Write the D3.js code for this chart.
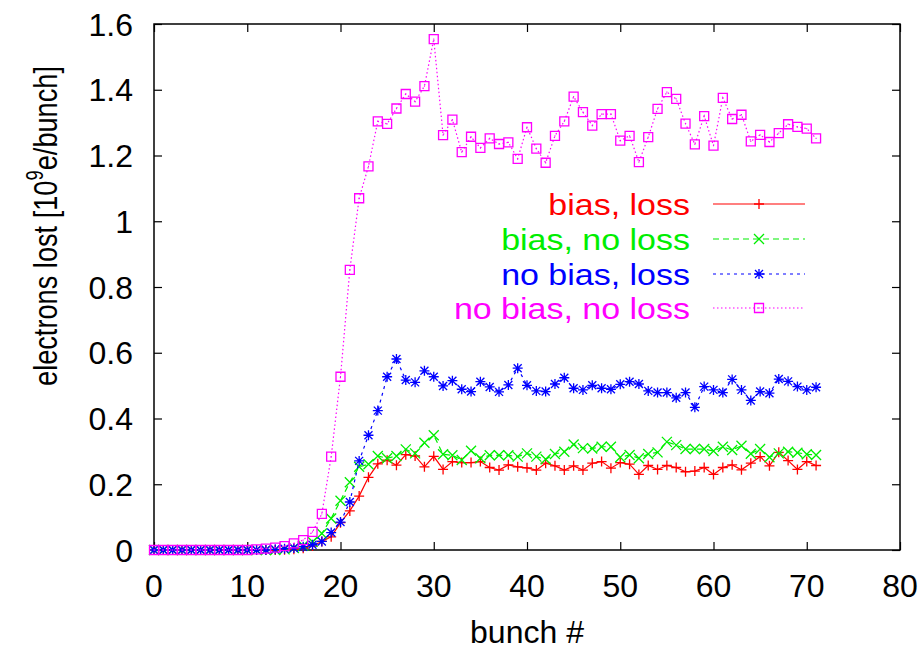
<!DOCTYPE html>
<html><head><meta charset="utf-8">
<script src="https://cdn.jsdelivr.net/npm/d3@7"></script>
<style>body{margin:0;background:#fff} text{font-family:"Liberation Sans",Arial,sans-serif}</style>
</head><body><svg id="c" width="921" height="654"></svg>
<script>
const bunch = [0,1,2,3,4,5,6,7,8,9,10,11,12,13,14,15,16,17,18,19,20,21,22,23,24,25,26,27,28,29,30,31,32,33,34,35,36,37,38,39,40,41,42,43,44,45,46,47,48,49,50,51,52,53,54,55,56,57,58,59,60,61,62,63,64,65,66,67,68,69,70,71];
const biasLoss = [0,0,0,0,0,0,0,0,0,0,0,0,0,0,0.001,0.002,0.005,0.012,0.026,0.040,0.083,0.119,0.164,0.221,0.262,0.273,0.258,0.290,0.286,0.253,0.285,0.245,0.269,0.266,0.266,0.269,0.251,0.243,0.259,0.253,0.250,0.243,0.264,0.256,0.243,0.256,0.243,0.264,0.269,0.249,0.266,0.261,0.230,0.257,0.245,0.257,0.251,0.238,0.240,0.251,0.230,0.251,0.259,0.244,0.264,0.284,0.256,0.297,0.272,0.245,0.269,0.257];
const biasNoLoss = [0,0,0,0,0,0,0,0,0,0,0,0,0,0,0.002,0.006,0.013,0.025,0.050,0.096,0.150,0.206,0.253,0.261,0.286,0.279,0.286,0.306,0.294,0.326,0.349,0.291,0.288,0.274,0.302,0.279,0.288,0.288,0.288,0.284,0.294,0.284,0.276,0.292,0.299,0.321,0.310,0.309,0.314,0.314,0.282,0.289,0.279,0.292,0.297,0.329,0.319,0.307,0.307,0.307,0.301,0.314,0.304,0.317,0.293,0.307,0.282,0.294,0.299,0.296,0.291,0.289];
const noBiasLoss = [0,0,0,0,0,0,0,0,0,0,0,0,0,0.002,0.004,0.006,0.010,0.016,0.026,0.053,0.085,0.146,0.271,0.349,0.424,0.527,0.581,0.517,0.510,0.545,0.527,0.499,0.515,0.489,0.482,0.512,0.496,0.481,0.502,0.553,0.501,0.484,0.482,0.505,0.524,0.492,0.487,0.501,0.492,0.489,0.504,0.512,0.505,0.484,0.479,0.479,0.463,0.479,0.434,0.497,0.487,0.479,0.519,0.487,0.455,0.482,0.477,0.520,0.513,0.497,0.487,0.495];
const noBiasNoLoss = [0,0,0,0,0,0,0,0,0,0,0,0.002,0.004,0.007,0.012,0.020,0.030,0.055,0.110,0.284,0.527,0.852,1.070,1.167,1.304,1.296,1.343,1.387,1.364,1.411,1.554,1.262,1.309,1.210,1.257,1.223,1.252,1.235,1.240,1.190,1.286,1.221,1.178,1.260,1.304,1.379,1.332,1.291,1.326,1.326,1.245,1.260,1.180,1.256,1.342,1.393,1.372,1.297,1.234,1.320,1.230,1.375,1.311,1.324,1.243,1.263,1.241,1.268,1.295,1.287,1.282,1.252];
const seriesNames = ["bias, loss","bias, no loss","no bias, loss","no bias, no loss"];
const xTicks = [0,10,20,30,40,50,60,70,80];
const yTicks = [0,0.2,0.4,0.6,0.8,1,1.2,1.4,1.6];

const svg = d3.select("#c");
const L=154, R=900, T=24, B=550;
const x = d3.scaleLinear().domain([0,80]).range([L,R]);
const y = d3.scaleLinear().domain([0,1.6]).range([B,T]);

const styles = [
  {data:biasLoss, color:"#ff0000", dash:null, marker:"plus"},
  {data:biasNoLoss, color:"#00ee00", dash:"6,4", marker:"cross"},
  {data:noBiasLoss, color:"#0000ff", dash:"3,4", marker:"star"},
  {data:noBiasNoLoss, color:"#ff00ff", dash:"1.5,2.5", marker:"box"}
];

function markerPath(type){
  const s=5;
  if(type==="plus") return `M${-s},0H${s}M0,${-s}V${s}`;
  if(type==="cross") return `M${-s},${-s}L${s},${s}M${-s},${s}L${s},${-s}`;
  if(type==="star") return `M${-s},0H${s}M0,${-s}V${s}M${-s*0.8},${-s*0.8}L${s*0.8},${s*0.8}M${-s*0.8},${s*0.8}L${s*0.8},${-s*0.8}`;
  return `M-4.5,-4.5H4.5V4.5H-4.5Z M-0.5,0H0.5`;
}

// axes frame ticks
const axG = svg.append("g");
axG.append("g").attr("transform",`translate(0,${B})`).call(d3.axisBottom(x).tickValues(xTicks).tickSizeInner(-8).tickSizeOuter(0).tickFormat(""));
axG.append("g").attr("transform",`translate(0,${T})`).call(d3.axisTop(x).tickValues(xTicks).tickSizeInner(-8).tickSizeOuter(0).tickFormat(""));
axG.append("g").attr("transform",`translate(${L},0)`).call(d3.axisLeft(y).tickValues(yTicks).tickSizeInner(-8).tickSizeOuter(0).tickFormat(""));
axG.append("g").attr("transform",`translate(${R},0)`).call(d3.axisRight(y).tickValues(yTicks).tickSizeInner(-8).tickSizeOuter(0).tickFormat(""));
axG.selectAll(".domain").remove();
axG.selectAll("line").attr("stroke","#000").attr("stroke-width",1.2);
svg.append("rect").attr("x",L).attr("y",T).attr("width",R-L).attr("height",B-T).attr("fill","none").attr("stroke","#000").attr("stroke-width",1.5);

// tick labels
svg.append("g").selectAll("text").data(xTicks).join("text")
  .attr("x",d=>x(d)).attr("y",597).attr("text-anchor","middle").attr("font-size",32).text(d=>d);
svg.append("g").selectAll("text").data(yTicks).join("text")
  .attr("x",133).attr("y",d=>y(d)).attr("dy","0.36em").attr("text-anchor","end").attr("font-size",32).text(d=>d3.format("~g")(d));

svg.append("text").attr("x",(L+R)/2).attr("y",643).attr("text-anchor","middle").attr("font-size",32).text("bunch #");
const yt = svg.append("text").attr("transform","translate(57,226) rotate(-90) scale(0.8,1)").attr("text-anchor","middle").attr("font-size",34);
yt.append("tspan").text("electrons lost [10");
yt.append("tspan").attr("font-size",23).attr("dy",-14).text("9");
yt.append("tspan").attr("dy",14).text("e/bunch]");

// series
const line = d3.line().x((d,i)=>x(bunch[i])).y(d=>y(d));
styles.forEach((s,k)=>{
  const g = svg.append("g");
  g.append("path").datum(s.data).attr("d",line).attr("fill","none").attr("stroke",s.color).attr("stroke-width",1.2).attr("stroke-dasharray",s.dash);
  g.selectAll("path.m").data(s.data).join("path").attr("class","m")
    .attr("transform",(d,i)=>`translate(${x(bunch[i])},${y(d)})`)
    .attr("d",markerPath(s.marker)).attr("fill","none").attr("stroke",s.color).attr("stroke-width",1.3);
});

// legend
const legY = [204,239,274,308];
styles.forEach((s,k)=>{
  svg.append("text").attr("transform",`translate(690,${legY[k]}) scale(1,0.86)`).attr("dy","0.36em").attr("text-anchor","end").attr("font-size",34).attr("fill",s.color).text(seriesNames[k]);
  svg.append("line").attr("x1",713).attr("x2",805).attr("y1",legY[k]).attr("y2",legY[k]).attr("stroke",s.color).attr("stroke-width",1.2).attr("stroke-dasharray",s.dash);
  svg.append("path").attr("transform",`translate(759,${legY[k]})`).attr("d",markerPath(s.marker)).attr("fill","none").attr("stroke",s.color).attr("stroke-width",1.3);
});
</script></body></html>
